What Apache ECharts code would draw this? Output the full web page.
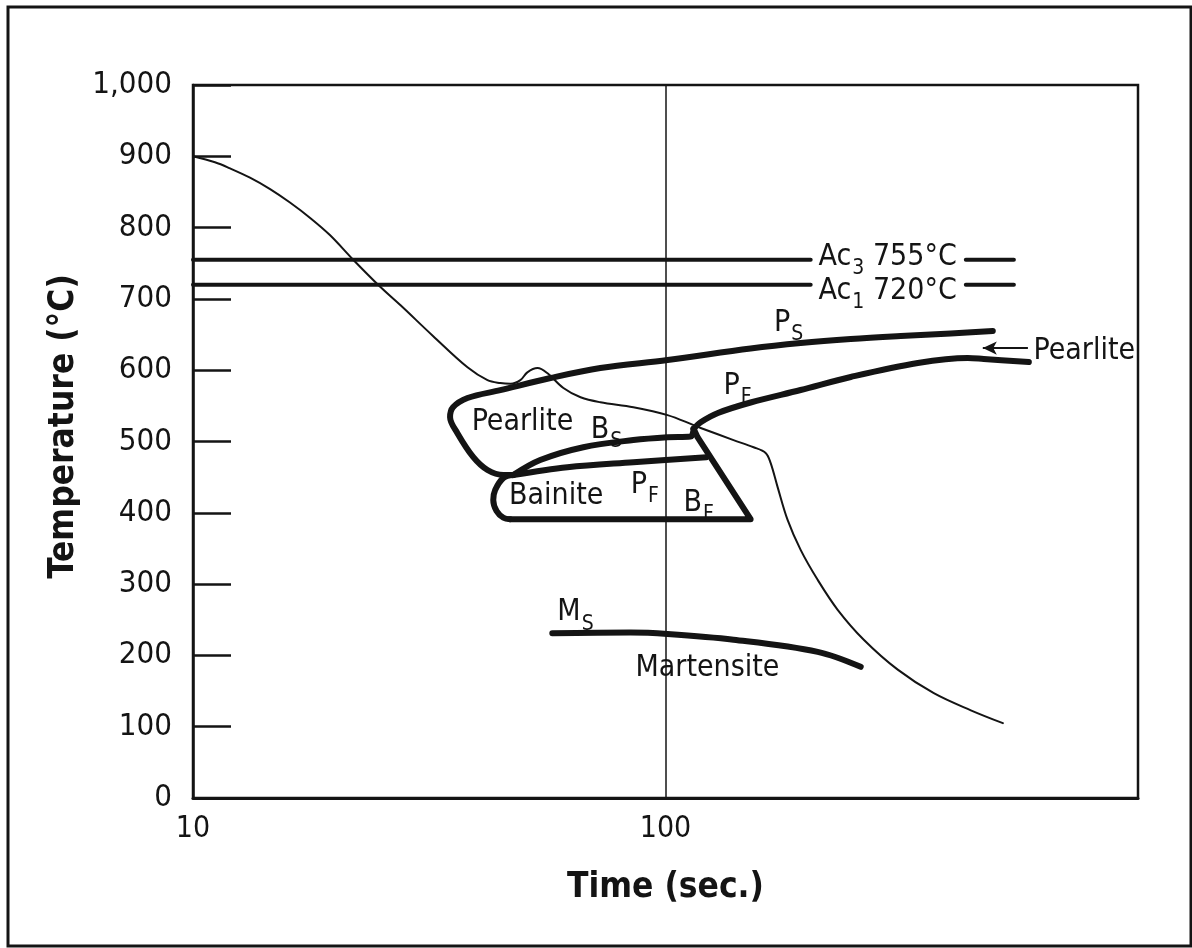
<!DOCTYPE html>
<html>
<head>
<meta charset="utf-8">
<title>CCT diagram</title>
<script src="https://cdn.jsdelivr.net/npm/echarts@6/dist/echarts.min.js"></script>
<style>
  html, body { margin: 0; padding: 0; background: #fff; }
  #chart { width: 1192px; height: 948px; }
</style>
</head>
<body>
<div id="chart"></div>
<script>
// Continuous-cooling transformation diagram: time (s, log scale) vs temperature (°C)

const FONT = "'Liberation Sans Narrow', 'DejaVu Sans Condensed', 'Liberation Sans', sans-serif";
const INK = '#141414';

// Axis ticks
const tempTicks = [0, 100, 200, 300, 400, 500, 600, 700, 800, 900, 1000];
const timeLabels = [10, 100];

// Cooling curve [time, temperature]
const coolingCurve = [
  [10, 900], [11.13, 891.6], [11.98, 883], [13.2, 870], [14.56, 854], [16.04, 835.2],
  [17.7, 813.6], [19.51, 789.3], [21.83, 755], [24.9, 717], [27.5, 691], [32.2, 648],
  [38.1, 604], [42.0, 586], [44.7, 582], [47.0, 581], [49.3, 586], [51.0, 597],
  [53.6, 603], [56.2, 596], [60.8, 575], [66.1, 562], [72.8, 555], [85.5, 548],
  [101, 537], [114.7, 523], [118.7, 519], [139.3, 502], [153.6, 492], [162.9, 484],
  [166.9, 470], [172.7, 436], [181.3, 390], [193.2, 348], [209.9, 306], [231.4, 264],
  [262.8, 222], [310.1, 180], [369.7, 147], [442.8, 123], [517.6, 105]
];

// Critical temperatures
const ac3Line = [[10, 755], [202.9, 755], [300, '-'], [432.1, 755], [546.2, 755]];
const ac1Line = [[10, 720], [202.9, 720], [300, '-'], [432.1, 720], [546.2, 720]];

// Pearlite start (Ps), continuing round the nose of the pearlite field
const pearliteStart = [
  [492.8, 655], [401.7, 651.5], [314.7, 648], [246.6, 643.8], [193.2, 638.1], [151.4, 630.4],
  [101, 614.3], [72.8, 603], [57.1, 589], [44.7, 572], [38.1, 561], [35.5, 548],
  [35.0, 534], [36.25, 512], [39.2, 478], [42.0, 460], [45.4, 453], [47.6, 453]
];

// Pearlite finish (Pf) towards long times
const pearliteFinish = [
  [114.7, 518], [118.7, 527], [129.1, 540], [151.4, 554.7], [193.2, 572.2],
  [246.6, 590.5], [342.0, 610.1], [436.3, 617.1], [471.7, 615.7], [587.5, 611.5]
];

// Bainite start (Bs) boundary
const bainiteStart = [
  [47.6, 453], [54.3, 474], [67.0, 492], [85.5, 502], [101, 506], [113, 507], [114.7, 518]
];

// Inner pearlite finish inside the bainite field
const innerFinish = [[47.6, 453], [62.0, 464], [85.5, 471], [122, 478]];

// Nose of the bainite field
const bainiteNose = [
  [47.6, 453], [45.4, 449], [43.6, 432], [43.2, 418], [43.9, 402.5], [45.4, 393], [46.9, 391]
];

// Bainite finish (Bf): flat bottom then the diagonal edge
const bainiteFinish = [[46.9, 391], [151.4, 391], [116.9, 506], [114.7, 518]];

// Martensite start (Ms)
const martensiteStart = [[57.6, 231], [84.3, 232], [101, 230], [139.3, 222], [209.9, 205], [258.9, 184]];

// Field labels
const labelTexts = [
  '{m|P}{s|S}', '{m|P}{s|F}', '{m|Pearlite}', '{m|B}{s|S}', '{m|Bainite}',
  '{m|P}{s|F}', '{m|B}{s|F}', '{m|M}{s|S}', '{m|Martensite}',
  '{m|Ac}{s|3}{m| 755°C}', '{m|Ac}{s|1}{m| 720°C}', '{m|Pearlite}'
];
const labelTimes = [182.2, 142.0, 49.8, 75.0, 58.7, 90.4, 117.5, 64.5, 122.7, 295.3, 295.3, 769.7];
const labelTemps = [666, 578, 527, 516, 423.6, 438.3, 413.7, 260, 181.6, 759, 710.4, 626];

// Arrow pointing at the pearlite finish
const pearliteArrow = [[584.8, 631], [469.4, 631]];

const chart = echarts.init(document.getElementById('chart'), null, { renderer: 'canvas' });

const thick = (data, width, smooth) => ({
  type: 'line',
  data: data,
  smooth: smooth,
  symbol: 'none',
  silent: true,
  lineStyle: { color: INK, width: width, cap: 'round', join: 'round' }
});

const rich = {
  m: { fontSize: 30, fontFamily: FONT, color: INK, lineHeight: 30, verticalAlign: 'top', textBorderWidth: 0 },
  s: { fontSize: 21, fontFamily: FONT, color: INK, lineHeight: 21, padding: [16, 0, 0, 1], verticalAlign: 'top', textBorderWidth: 0 }
};

chart.setOption({
  animation: false,
  backgroundColor: '#fff',
  graphic: [{
    type: 'rect',
    shape: { x: 8, y: 7, width: 1183, height: 939 },
    style: { fill: 'none', stroke: INK, lineWidth: 3 },
    silent: true
  }],
  grid: {
    left: 193, right: 54, top: 85, bottom: 150,
    show: true, borderColor: INK, borderWidth: 2.5, backgroundColor: 'transparent'
  },
  xAxis: {
    type: 'log',
    logBase: 10,
    min: 10,
    max: 1000,
    name: 'Time (sec.)',
    nameLocation: 'middle',
    nameGap: 72,
    nameTextStyle: { fontFamily: FONT, fontSize: 35, fontWeight: 'bold', color: INK },
    axisLine: { show: true, lineStyle: { color: INK, width: 3 } },
    axisTick: { show: false },
    splitLine: { show: true, lineStyle: { color: INK, width: 1.5 } },
    axisLabel: {
      fontFamily: FONT, fontSize: 30, color: INK, margin: 16,
      formatter: v => (timeLabels.indexOf(Math.round(v)) >= 0 ? String(Math.round(v)) : '')
    }
  },
  yAxis: {
    type: 'value',
    min: tempTicks[0],
    max: tempTicks[tempTicks.length - 1],
    interval: 100,
    name: 'Temperature (°C)',
    nameLocation: 'middle',
    nameGap: 57,
    nameTextStyle: { fontFamily: FONT, fontSize: 35, fontWeight: 'bold', color: INK, padding: [0, 0, 0, 30] },
    axisLine: { show: true, lineStyle: { color: INK, width: 2.5 } },
    axisTick: { show: true, inside: true, length: 38, lineStyle: { color: INK, width: 2.5 } },
    splitLine: { show: false },
    axisLabel: {
      fontFamily: FONT, fontSize: 31, color: INK, margin: 21,
      formatter: v => (v >= 1000 ? v.toLocaleString('en-US') : String(v))
    }
  },
  series: [
    thick(coolingCurve, 2, 0.35),
    thick(ac3Line, 4, false),
    thick(ac1Line, 4, false),
    thick(pearliteStart, 6, 0.35),
    thick(pearliteFinish, 6, 0.35),
    thick(bainiteStart, 6, 0.35),
    thick(innerFinish, 6, 0.35),
    thick(bainiteNose, 6, 0.35),
    thick(bainiteFinish, 6, false),
    thick(martensiteStart, 6, 0.35),
    {
      type: 'line',
      data: [],
      silent: true,
      markLine: {
        silent: true,
        symbol: ['none', 'arrow'],
        symbolSize: [10, 14],
        label: { show: false },
        lineStyle: { color: INK, width: 2, type: 'solid' },
        data: [[{ coord: pearliteArrow[0] }, { coord: pearliteArrow[1] }]]
      }
    },
    {
      type: 'scatter',
      symbolSize: 0,
      silent: true,
      z: 5,
      itemStyle: { color: INK, opacity: 0 },
      data: labelTexts.map((t, i) => ({
        value: [labelTimes[i], labelTemps[i]],
        label: {
          show: true, position: 'inside', formatter: t, rich: rich,
          color: INK, textBorderWidth: 0, opacity: 1
        }
      }))
    }
  ]
});
</script>
</body>
</html>
